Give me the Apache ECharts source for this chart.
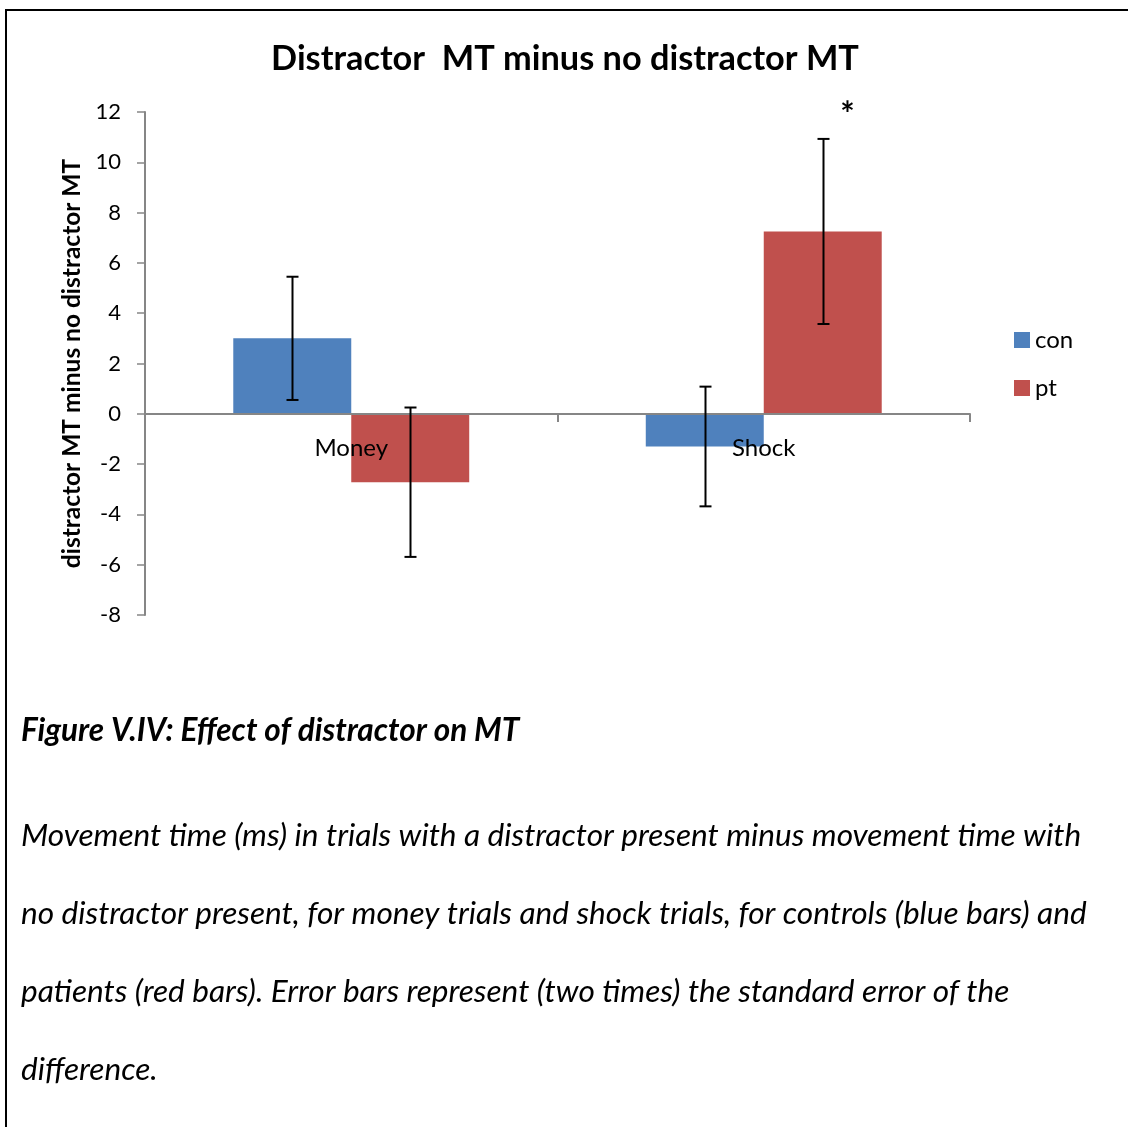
<!DOCTYPE html>
<html>
<head>
<meta charset="utf-8">
<script src="https://cdn.jsdelivr.net/npm/echarts@6/dist/echarts.min.js"></script>
<style>
html,body{margin:0;padding:0;background:#fff;}
#chart{width:1128px;height:1127px;}
</style>
</head>
<body>
<div id="chart"></div>
<script>
var categories = ['Money', 'Shock'];
var seriesNames = ['con', 'pt'];
var conValues = [3.0, -1.3];
var ptValues = [-2.72, 7.25];
var conErr = [2.45, 2.38];
var ptErr = [2.97, 3.68];
var ptMarks = ['', '*'];
var yTicks = [-8, -6, -4, -2, 0, 2, 4, 6, 8, 10, 12];

var chartTitle = 'Distractor  MT minus no distractor MT';
var yAxisName = 'distractor MT minus no distractor MT';
var captionTitle = 'Figure V.IV: Effect of distractor on MT';
var captionLines = [
  'Movement time (ms) in trials with a distractor present minus movement time with',
  'no distractor present, for money trials and shock trials, for controls (blue bars) and',
  'patients (red bars). Error bars represent (two times) the standard error of the',
  'difference.'
];

var FONT = 'Lato';
var BAR_GAP_CAT = 0.428;
var colors = ['#4F81BD', '#C0504D'];

function errSeries(name, values, errs, sideIdx, marks) {
  var data = values.map(function (v, i) { return [i, v, errs[i], marks ? marks[i] : '']; });
  return {
    type: 'custom',
    name: name + '_err',
    z: 10,
    silent: true,
    data: data,
    renderItem: function (params, api) {
      var idx = api.value(0);
      var v = api.value(1);
      var e = api.value(2);
      var mark = data[params.dataIndex][3];
      var band = api.size([1, 0])[0];
      var barW = band * (1 - BAR_GAP_CAT) / 2;
      var off = (sideIdx === 0 ? -1 : 1) * barW / 2;
      var top = api.coord([idx, v + e]);
      var bot = api.coord([idx, v - e]);
      var x = Math.round(top[0] + off) + 0.5;
      var cap = 6;
      var st = { stroke: '#000', lineWidth: 2 };
      var children = [
        { type: 'line', shape: { x1: x, y1: top[1], x2: x, y2: bot[1] }, style: st },
        { type: 'line', shape: { x1: x - cap, y1: top[1], x2: x + cap, y2: top[1] }, style: st },
        { type: 'line', shape: { x1: x - cap, y1: bot[1], x2: x + cap, y2: bot[1] }, style: st }
      ];
      if (mark) {
        children.push({
          type: 'text',
          style: { text: mark, x: x + 24, y: top[1] - 24, align: 'center', verticalAlign: 'middle',
                   fontFamily: FONT, fontSize: 34, fontWeight: 'bold', fill: '#000' }
        });
      }
      return { type: 'group', children: children };
    }
  };
}

var chart = echarts.init(document.getElementById('chart'), null, { renderer: 'canvas' });

var graphics = [
  { type: 'polyline', shape: { points: [[6, 1127], [6, 10], [1128, 10]] },
    style: { stroke: '#000', lineWidth: 2, fill: null } },
  { type: 'text', left: 21, top: 731 - 16,
    style: { text: captionTitle, fontFamily: FONT, fontSize: 31.5, fontWeight: 'bold', fontStyle: 'italic', fill: '#000' } }
];
var lineYs = [837, 915, 993, 1071];
captionLines.forEach(function (t, i) {
  graphics.push({ type: 'text', left: 21, top: lineYs[i] - 17,
    style: { text: t, fontFamily: FONT, fontSize: 31.6, fontStyle: 'italic', fill: '#000' } });
});

chart.setOption({
  animation: false,
  backgroundColor: '#fff',
  color: colors,
  title: {
    text: chartTitle,
    left: 560, top: 37, textAlign: 'center',
    textStyle: { fontFamily: FONT, fontSize: 34.3, fontWeight: 'bold', color: '#000' }
  },
  legend: {
    data: seriesNames,
    orient: 'vertical',
    left: 1009, top: 323,
    itemWidth: 16, itemHeight: 16, itemGap: 24,
    icon: 'rect',
    textStyle: { fontFamily: FONT, fontSize: 24, color: '#000' }
  },
  grid: { left: 145, right: 158, top: 112, bottom: 512, containLabel: false },
  xAxis: {
    type: 'category',
    data: categories,
    offset: -201,
    z: 5,
    axisLine: { onZero: false, lineStyle: { color: '#868686', width: 2 } },
    axisTick: { show: true, length: 8, lineStyle: { color: '#868686', width: 2 } },
    axisLabel: { margin: 22, fontFamily: FONT, fontSize: 24, color: '#000' },
    splitLine: { show: false }
  },
  yAxis: {
    type: 'value',
    min: -8, max: 12, interval: 2,
    name: yAxisName,
    nameLocation: 'middle',
    nameGap: 58,
    nameTextStyle: { fontFamily: FONT, fontSize: 24.5, fontWeight: 'bold', color: '#000' },
    axisLine: { show: true, lineStyle: { color: '#868686', width: 2 } },
    axisTick: { show: true, length: 8, lineStyle: { color: '#868686', width: 1.5 } },
    axisLabel: { margin: 24, fontFamily: FONT, fontSize: 22, color: '#000',
      formatter: function (v) { return yTicks.indexOf(v) >= 0 ? String(v) : ''; } },
    splitLine: { show: false }
  },
  series: [
    { type: 'bar', name: 'con', data: conValues, barGap: '0%', barCategoryGap: (BAR_GAP_CAT * 100) + '%',
      itemStyle: { color: colors[0] } },
    { type: 'bar', name: 'pt', data: ptValues, barGap: '0%', barCategoryGap: (BAR_GAP_CAT * 100) + '%',
      itemStyle: { color: colors[1] } },
    errSeries('con', conValues, conErr, 0, null),
    errSeries('pt', ptValues, ptErr, 1, ptMarks)
  ],
  graphic: graphics
});
</script>
</body>
</html>
